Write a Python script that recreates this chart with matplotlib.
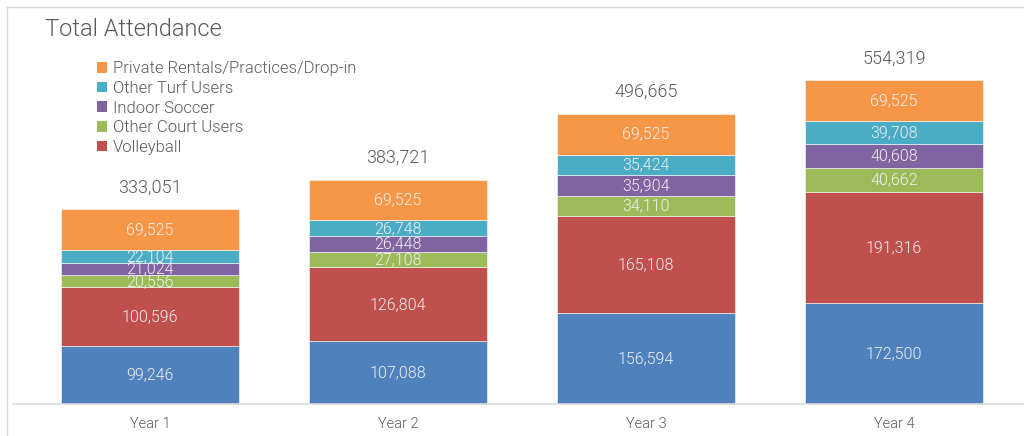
import matplotlib
matplotlib.use("Agg")
from matplotlib import pyplot as plt
from matplotlib.lines import Line2D
from matplotlib.patches import Patch

plt.rcParams['font.family'] = ['Roboto', 'DejaVu Sans']
plt.rcParams['font.weight'] = 300

anios = ['Year 1', 'Year 2', 'Year 3', 'Year 4']
base = [99246, 107088, 156594, 172500]
voleibol = [100596, 126804, 165108, 191316]
otras_canchas = [20556, 27108, 34110, 40662]
futbol_sala = [21024, 26448, 35904, 40608]
otros_cesped = [22104, 26748, 35424, 39708]
alquileres = [69525, 69525, 69525, 69525]

series = [
    (None, base, '#4F81BD'),
    ('Volleyball', voleibol, '#C0504D'),
    ('Other Court Users', otras_canchas, '#9BBB59'),
    ('Indoor Soccer', futbol_sala, '#8064A2'),
    ('Other Turf Users', otros_cesped, '#4BACC6'),
    ('Private Rentals/Practices/Drop-in', alquileres, '#F79646'),
]

fig = plt.figure(figsize=(10.24, 4.36), dpi=100)
ax = fig.add_axes([13/1024, 32/436, 1 - 13/1024, 396/436])

x = list(range(len(anios)))
abajo = [0] * len(anios)
for nombre, valores, color in series:
    ax.bar(x, valores, 0.72, bottom=abajo, color=color,
           edgecolor='white', linewidth=0.4)
    for xi, b, v in zip(x, abajo, valores):
        ax.text(xi, b + v / 2, f'{v:,}', ha='center', va='center',
                color='#F2F2F2', fontsize=11.5, fontweight=300)
    abajo = [a + v for a, v in zip(abajo, valores)]

for xi, t in zip(x, abajo):
    ax.text(xi, t + 22000, f'{t:,}', ha='center', va='bottom',
            color='#595959', fontsize=13, fontweight=300)

ax.set_xlim(-0.553, 3.524)
ax.set_ylim(0, 678000)
ax.set_xticks(x)
ax.set_xticklabels(anios, color='#595959', fontsize=10.5, fontweight=300)
ax.tick_params(axis='x', length=0, pad=9)
ax.set_yticks([])
for s in ['top', 'right', 'left']:
    ax.spines[s].set_visible(False)
ax.spines['bottom'].set_color('#D9D9D9')
ax.spines['bottom'].set_linewidth(1.2)

# borde del grafico
fig.add_artist(Line2D([7/1024, 7/1024], [0, 1 - 7/436], transform=fig.transFigure,
                      color='#D9D9D9', linewidth=1))
fig.add_artist(Line2D([7/1024, 1], [1 - 7/436, 1 - 7/436], transform=fig.transFigure,
                      color='#D9D9D9', linewidth=1))

fig.text(45/1024, 1 - 30/436, 'Total Attendance', fontsize=17, color='#595959',
         va='center', ha='left', fontweight=300)

handles = [Patch(facecolor=c, label=n) for n, v, c in reversed(series) if n]
fig.legend(handles=handles, loc='upper left', bbox_to_anchor=(89/1024, 1 - 53/436),
           frameon=False, prop={'size': 12, 'weight': 300}, handlelength=0.6,
           handleheight=0.6, handletextpad=0.35, labelspacing=0.28,
           labelcolor='#595959', borderpad=0)

fig.savefig('out.png', dpi=100)
